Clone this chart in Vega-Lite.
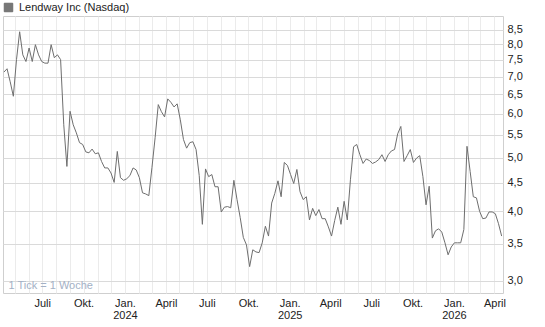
{
  "$schema": "https://vega.github.io/schema/vega-lite/v6.json",
  "width": 500,
  "height": 277,
  "autosize": {"type": "none"},
  "padding": {"left": 3, "top": 16, "right": 42, "bottom": 34},
  "background": "white",
  "config": {"font": "Liberation Sans", "view": {"stroke": "#cfcfcf"}},
  "data": {"values": [
    {"date": "2023-04-07", "price": 7.13}, {"date": "2023-04-14", "price": 7.23}, {"date": "2023-04-21", "price": 6.85}, {"date": "2023-04-28", "price": 6.45},
    {"date": "2023-05-05", "price": 7.51}, {"date": "2023-05-12", "price": 8.43}, {"date": "2023-05-19", "price": 7.66}, {"date": "2023-05-26", "price": 7.45},
    {"date": "2023-06-02", "price": 7.88}, {"date": "2023-06-09", "price": 7.45}, {"date": "2023-06-16", "price": 7.99}, {"date": "2023-06-23", "price": 7.66}, {"date": "2023-06-30", "price": 7.45},
    {"date": "2023-07-07", "price": 7.40}, {"date": "2023-07-14", "price": 7.40}, {"date": "2023-07-21", "price": 7.99}, {"date": "2023-07-28", "price": 7.57},
    {"date": "2023-08-04", "price": 7.66}, {"date": "2023-08-11", "price": 7.51}, {"date": "2023-08-18", "price": 5.73}, {"date": "2023-08-25", "price": 4.82},
    {"date": "2023-09-01", "price": 6.06}, {"date": "2023-09-08", "price": 5.73}, {"date": "2023-09-15", "price": 5.54}, {"date": "2023-09-22", "price": 5.32}, {"date": "2023-09-29", "price": 5.28},
    {"date": "2023-10-06", "price": 5.12}, {"date": "2023-10-13", "price": 5.10}, {"date": "2023-10-20", "price": 5.18}, {"date": "2023-10-27", "price": 5.08},
    {"date": "2023-11-03", "price": 5.10}, {"date": "2023-11-10", "price": 4.92}, {"date": "2023-11-17", "price": 4.79}, {"date": "2023-11-24", "price": 4.79},
    {"date": "2023-12-01", "price": 4.69}, {"date": "2023-12-08", "price": 4.51}, {"date": "2023-12-15", "price": 5.13}, {"date": "2023-12-22", "price": 4.60}, {"date": "2023-12-29", "price": 4.55},
    {"date": "2024-01-05", "price": 4.58}, {"date": "2024-01-12", "price": 4.64}, {"date": "2024-01-19", "price": 4.79}, {"date": "2024-01-26", "price": 4.75},
    {"date": "2024-02-02", "price": 4.60}, {"date": "2024-02-09", "price": 4.32}, {"date": "2024-02-16", "price": 4.30}, {"date": "2024-02-23", "price": 4.27},
    {"date": "2024-03-01", "price": 4.80}, {"date": "2024-03-08", "price": 5.43}, {"date": "2024-03-15", "price": 6.23}, {"date": "2024-03-22", "price": 6.05}, {"date": "2024-03-29", "price": 5.92},
    {"date": "2024-04-05", "price": 6.38}, {"date": "2024-04-12", "price": 6.29}, {"date": "2024-04-19", "price": 6.17}, {"date": "2024-04-26", "price": 6.25},
    {"date": "2024-05-03", "price": 5.85}, {"date": "2024-05-10", "price": 5.39}, {"date": "2024-05-17", "price": 5.20}, {"date": "2024-05-24", "price": 5.32}, {"date": "2024-05-31", "price": 5.34},
    {"date": "2024-06-07", "price": 5.17}, {"date": "2024-06-14", "price": 4.64}, {"date": "2024-06-21", "price": 3.79}, {"date": "2024-06-28", "price": 4.77},
    {"date": "2024-07-05", "price": 4.62}, {"date": "2024-07-12", "price": 4.66}, {"date": "2024-07-19", "price": 4.43}, {"date": "2024-07-26", "price": 4.43},
    {"date": "2024-08-02", "price": 3.99}, {"date": "2024-08-09", "price": 4.07}, {"date": "2024-08-16", "price": 4.08}, {"date": "2024-08-23", "price": 4.06}, {"date": "2024-08-30", "price": 4.55},
    {"date": "2024-09-06", "price": 4.20}, {"date": "2024-09-13", "price": 3.90}, {"date": "2024-09-20", "price": 3.59}, {"date": "2024-09-27", "price": 3.48},
    {"date": "2024-10-04", "price": 3.18}, {"date": "2024-10-11", "price": 3.41}, {"date": "2024-10-18", "price": 3.38}, {"date": "2024-10-25", "price": 3.37},
    {"date": "2024-11-01", "price": 3.51}, {"date": "2024-11-08", "price": 3.76}, {"date": "2024-11-15", "price": 3.61}, {"date": "2024-11-22", "price": 4.14}, {"date": "2024-11-29", "price": 4.31},
    {"date": "2024-12-06", "price": 4.54}, {"date": "2024-12-13", "price": 4.25}, {"date": "2024-12-20", "price": 4.90}, {"date": "2024-12-27", "price": 4.84},
    {"date": "2025-01-03", "price": 4.66}, {"date": "2025-01-10", "price": 4.49}, {"date": "2025-01-17", "price": 4.76}, {"date": "2025-01-24", "price": 4.34}, {"date": "2025-01-31", "price": 4.20},
    {"date": "2025-02-07", "price": 4.25}, {"date": "2025-02-14", "price": 3.86}, {"date": "2025-02-21", "price": 4.05}, {"date": "2025-02-28", "price": 3.93},
    {"date": "2025-03-07", "price": 4.03}, {"date": "2025-03-14", "price": 3.88}, {"date": "2025-03-21", "price": 3.88}, {"date": "2025-03-28", "price": 3.75},
    {"date": "2025-04-04", "price": 3.61}, {"date": "2025-04-11", "price": 3.85}, {"date": "2025-04-18", "price": 4.07}, {"date": "2025-04-25", "price": 3.79},
    {"date": "2025-05-02", "price": 4.17}, {"date": "2025-05-09", "price": 3.86}, {"date": "2025-05-16", "price": 4.56}, {"date": "2025-05-23", "price": 5.23}, {"date": "2025-05-30", "price": 5.28},
    {"date": "2025-06-06", "price": 5.06}, {"date": "2025-06-13", "price": 4.88}, {"date": "2025-06-20", "price": 4.97}, {"date": "2025-06-27", "price": 4.94},
    {"date": "2025-07-04", "price": 4.88}, {"date": "2025-07-11", "price": 4.91}, {"date": "2025-07-18", "price": 4.96}, {"date": "2025-07-25", "price": 5.06},
    {"date": "2025-08-01", "price": 4.92}, {"date": "2025-08-08", "price": 5.06}, {"date": "2025-08-15", "price": 5.14}, {"date": "2025-08-22", "price": 5.17}, {"date": "2025-08-29", "price": 5.52},
    {"date": "2025-09-05", "price": 5.69}, {"date": "2025-09-12", "price": 4.92}, {"date": "2025-09-19", "price": 5.04}, {"date": "2025-09-26", "price": 5.17},
    {"date": "2025-10-03", "price": 4.90}, {"date": "2025-10-10", "price": 4.99}, {"date": "2025-10-17", "price": 5.04}, {"date": "2025-10-24", "price": 4.62}, {"date": "2025-10-31", "price": 4.11},
    {"date": "2025-11-07", "price": 4.44}, {"date": "2025-11-14", "price": 3.58}, {"date": "2025-11-21", "price": 3.69}, {"date": "2025-11-28", "price": 3.72},
    {"date": "2025-12-05", "price": 3.67}, {"date": "2025-12-12", "price": 3.51}, {"date": "2025-12-19", "price": 3.34}, {"date": "2025-12-26", "price": 3.45},
    {"date": "2026-01-02", "price": 3.51}, {"date": "2026-01-09", "price": 3.51}, {"date": "2026-01-16", "price": 3.51}, {"date": "2026-01-23", "price": 3.71}, {"date": "2026-01-30", "price": 5.24},
    {"date": "2026-02-06", "price": 4.72}, {"date": "2026-02-13", "price": 4.25}, {"date": "2026-02-20", "price": 4.23}, {"date": "2026-02-27", "price": 4.00},
    {"date": "2026-03-06", "price": 3.88}, {"date": "2026-03-13", "price": 3.89}, {"date": "2026-03-20", "price": 3.99}, {"date": "2026-03-27", "price": 3.99},
    {"date": "2026-04-03", "price": 3.96}, {"date": "2026-04-10", "price": 3.80}, {"date": "2026-04-17", "price": 3.61}
  ]},
  "mark": {"type": "line", "strokeWidth": 1, "interpolate": "linear"},
  "encoding": {
    "x": {
      "field": "date", "type": "temporal",
      "scale": {"type": "utc", "domain": ["2023-04-05", "2026-04-20"], "nice": false},
      "axis": {
        "title": "1 Tick = 1 Woche",
        "titleX": 5, "titleY": -3, "titleAlign": "left", "titleAnchor": "start", "titleBaseline": "bottom",
        "titleFontWeight": "normal", "titleFontSize": 11, "titleColor": "#a3b1c6", "titleFont": "Liberation Sans",
        "tickCount": {"interval": "month", "step": 1},
        "grid": true, "gridColor": "#ebebeb", "gridWidth": 1,
        "ticks": false, "domain": false,
        "labelExpr": "utcmonth(datum.value) == 0 ? ['Jan.', utcFormat(datum.value, '%Y')] : utcmonth(datum.value) == 3 ? 'April' : utcmonth(datum.value) == 6 ? 'Juli' : utcmonth(datum.value) == 9 ? 'Okt.' : ''",
        "labelFontSize": 11, "labelColor": "#222222", "labelPadding": 4, "labelOverlap": false, "labelFlush": false, "labelBound": false, "labelLineHeight": 12
      }
    },
    "y": {
      "field": "price", "type": "quantitative",
      "scale": {"type": "log", "domain": [2.85, 9.0], "nice": false, "zero": false},
      "axis": {
        "orient": "right", "title": null,
        "values": [3, 3.5, 4, 4.5, 5, 5.5, 6, 6.5, 7, 7.5, 8, 8.5],
        "labelExpr": "replace(format(datum.value, '.1f'), '.', ',')",
        "grid": true, "gridColor": "#dadada", "domain": false, "ticks": false,
        "labelPadding": 4, "labelFontSize": 11, "labelColor": "#222222"
      }
    },
    "color": {
      "datum": "Lendway Inc (Nasdaq)",
      "scale": {"range": ["#6e6e6e"]},
      "legend": {
        "orient": "none", "legendX": 0, "legendY": -14, "title": null,
        "symbolType": "square", "symbolSize": 72, "padding": 0, "labelOffset": 5,
        "labelFontSize": 11, "labelColor": "#222222", "labelFont": "Liberation Sans",
        "encode": {"symbols": {"update": {"fill": {"value": "#777777"}, "stroke": {"value": "#333333"}, "strokeWidth": {"value": 1}}}}
      }
    }
  }
}
